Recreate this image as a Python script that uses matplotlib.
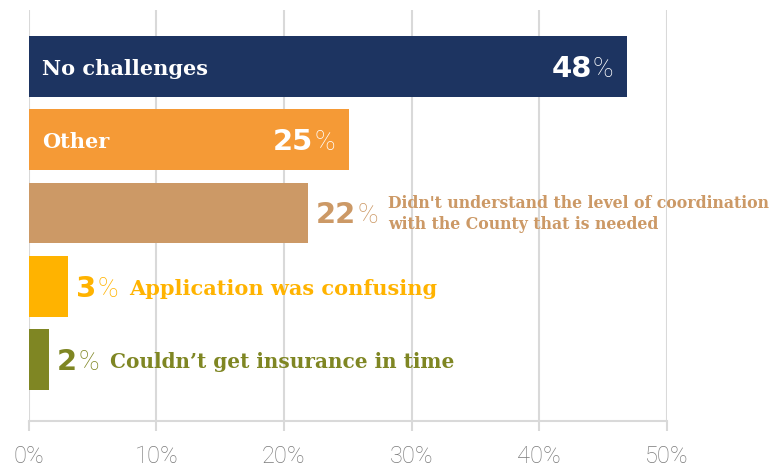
import matplotlib
matplotlib.use('Agg')
import matplotlib.pyplot as plt

categories = [
    "No challenges",
    "Other",
    "Didn't understand the level of coordination\nwith the County that is needed",
    "Application was confusing",
    "Couldn\u2019t get insurance in time",
]
bar_values = [46.9, 25.1, 21.9, 3.1, 1.6]
pct_labels = ["48", "25", "22", "3", "2"]
colors = ["#1d3461", "#f59a36", "#cc9966", "#ffb300", "#7f8623"]
label_inside = [True, True, False, False, False]
desc_sizes = [15, 15, 11.3, 15, 14.4]
xticks = [0, 10, 20, 30, 40, 50]
xtick_labels = ["0%", "10%", "20%", "30%", "40%", "50%"]

PX = 0.72  # points per pixel at dpi 100
GRID = "#d9d9d9"

fig = plt.figure(figsize=(7.82, 4.66), dpi=100)
ax = fig.add_axes([28.5 / 782, 1 - 421 / 466, (667 - 28.5) / 782, 411 / 466])

ypos = list(range(len(categories)))
ax.barh(ypos, bar_values, height=0.83, color=colors, zorder=2)
ax.set_xlim(0, 50)
ax.set_ylim(4.84, -0.77)

ax.set_xticks(xticks)
ax.set_xticklabels(xtick_labels)
for lbl in ax.get_xticklabels():
    lbl.set_fontfamily("Roboto")
    lbl.set_fontweight("light")
ax.grid(axis="x", color=GRID, lw=1.5, zorder=0)
ax.set_axisbelow(True)
for s in ["top", "left", "right"]:
    ax.spines[s].set_visible(False)
ax.spines["bottom"].set_color(GRID)
ax.spines["bottom"].set_linewidth(1.5)
ax.tick_params(axis="x", length=7, width=1.5, color=GRID, labelsize=17,
               labelcolor="#7a7a7a", pad=10)
ax.tick_params(axis="y", left=False, labelleft=False)

num_kw = dict(fontfamily="DejaVu Sans", fontweight="bold", fontsize=21)
pct_kw = dict(fontfamily="Roboto", fontweight="light", fontsize=20)
cat_kw = dict(fontfamily="DejaVu Serif", fontweight="bold")

base = -10.5 * PX  # baseline offset for numbers

for i, (cat, v, lab, col, inside, dsz) in enumerate(
        zip(categories, bar_values, pct_labels, colors, label_inside, desc_sizes)):
    if inside:
        ax.annotate(cat, xy=(0, i), xytext=(14 * PX, -8.5 * PX),
                    textcoords="offset points", ha="left", va="baseline",
                    color="white", fontsize=dsz, zorder=3, **cat_kw)
        pct = ax.annotate("%", xy=(v, i), xytext=(-14 * PX, base),
                          textcoords="offset points", ha="right", va="baseline",
                          color="white", zorder=3, **pct_kw)
        ax.annotate(lab, xy=(0, i), xycoords=(pct, "data"), xytext=(-1 * PX, base),
                    textcoords="offset points", ha="right", va="baseline",
                    color="white", zorder=3, **num_kw)
    else:
        num = ax.annotate(lab, xy=(v, i), xytext=(8 * PX, base),
                          textcoords="offset points", ha="left", va="baseline",
                          color=col, zorder=3, annotation_clip=False, **num_kw)
        pct = ax.annotate("%", xy=(1, i), xycoords=(num, "data"), xytext=(1 * PX, base),
                          textcoords="offset points", ha="left", va="baseline",
                          color=col, zorder=3, annotation_clip=False, **pct_kw)
        if "\n" in cat:
            ax.annotate(cat, xy=(1, i), xycoords=(pct, "data"), xytext=(10 * PX, -1 * PX),
                        textcoords="offset points", ha="left", va="center",
                        color=col, fontsize=dsz, linespacing=1.3, zorder=3,
                        annotation_clip=False, **cat_kw)
        else:
            ax.annotate(cat, xy=(1, i), xycoords=(pct, "data"), xytext=(11 * PX, -8.5 * PX),
                        textcoords="offset points", ha="left", va="baseline",
                        color=col, fontsize=dsz, zorder=3, annotation_clip=False,
                        **cat_kw)

fig.savefig("out.png", dpi=100)
